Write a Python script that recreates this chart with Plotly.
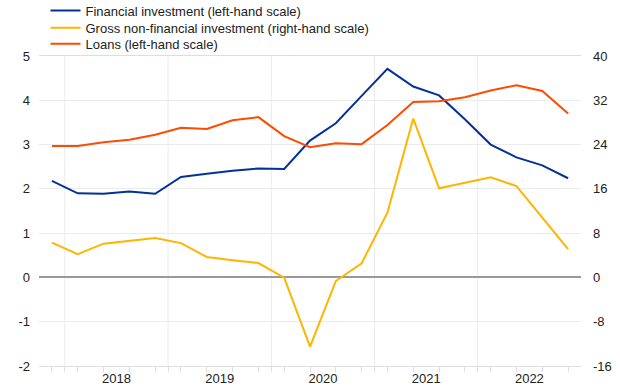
import plotly.graph_objects as go

quarters = ["2017Q4",
            "2018Q1", "2018Q2", "2018Q3", "2018Q4",
            "2019Q1", "2019Q2", "2019Q3", "2019Q4",
            "2020Q1", "2020Q2", "2020Q3", "2020Q4",
            "2021Q1", "2021Q2", "2021Q3", "2021Q4",
            "2022Q1", "2022Q2", "2022Q3", "2022Q4"]

financial_investment = [2.18, 1.90, 1.89, 1.94, 1.89, 2.27, 2.34, 2.41, 2.46, 2.45,
                        3.09, 3.48, 4.10, 4.71, 4.31, 4.11, 3.57, 3.00, 2.71, 2.53, 2.24]
gross_nonfin_investment = [6.3, 4.2, 6.1, 6.6, 7.1, 6.2, 3.7, 3.1, 2.6, -0.05,
                           -12.5, -0.65, 2.55, 11.7, 28.7, 16.1, 17.1, 18.1, 16.5, 10.8, 5.1]
loans = [2.97, 2.97, 3.05, 3.11, 3.22, 3.38, 3.35, 3.55, 3.62, 3.19,
         2.94, 3.03, 3.01, 3.44, 3.96, 3.98, 4.07, 4.22, 4.34, 4.21, 3.70]

left_ticks = [-2, -1, 0, 1, 2, 3, 4, 5]
right_ticks = [-16, -8, 0, 8, 16, 24, 32, 40]

names = ["Financial investment (left-hand scale)",
         "Gross non-financial investment (right-hand scale)",
         "Loans (left-hand scale)"]
colors = ["#003299", "#ffb400", "#ff4b00"]

x = list(range(len(quarters)))
years = sorted(set(q[:4] for q in quarters if q.endswith("Q1")))
year_centers = [sum(i for i, q in enumerate(quarters) if q[:4] == y) /
                sum(1 for q in quarters if q[:4] == y) for y in years]
boundaries = [i - 0.5 for i, q in enumerate(quarters) if q.endswith("Q1")]

fig = go.Figure()
fig.add_trace(go.Scatter(x=x, y=financial_investment, name=names[0], mode="lines",
                         line=dict(color=colors[0], width=2), legend="legend"))
fig.add_trace(go.Scatter(x=x, y=gross_nonfin_investment, name=names[1], mode="lines",
                         line=dict(color=colors[1], width=2), yaxis="y2",
                         legend="legend2"))
fig.add_trace(go.Scatter(x=x, y=loans, name=names[2], mode="lines",
                         line=dict(color=colors[2], width=2), legend="legend3"))

grid = "#ebebeb"
for b in boundaries:
    fig.add_shape(type="line", xref="x", yref="paper", x0=b, x1=b, y0=0, y1=1,
                  line=dict(color=grid, width=1), layer="below")

def leg(ypos):
    return dict(x=0.012, y=ypos, xref="paper", yref="paper",
                xanchor="left", yanchor="top", font=dict(size=13),
                itemwidth=30, bgcolor="rgba(0,0,0,0)", borderwidth=0)

fig.update_layout(
    width=620, height=388,
    margin=dict(l=39, r=39, t=56, b=22, autoexpand=False),
    paper_bgcolor="white", plot_bgcolor="white",
    font=dict(family="Liberation Sans, Arial, sans-serif", size=13, color="#222222"),
    showlegend=True,
    legend=leg(1.1952), legend2=leg(1.1394), legend3=leg(1.0878),
    xaxis=dict(range=[-0.5, len(quarters) - 0.5],
               tickmode="array", tickvals=year_centers, ticktext=years,
               ticks="", showgrid=False, zeroline=False,
               showline=True, linecolor="#dddddd", linewidth=1, mirror=True,
               minor=dict(tickmode="array", tickvals=x + boundaries,
                          ticks="outside", ticklen=5, tickcolor="#dddddd",
                          tickwidth=1, showgrid=False),
               tickfont=dict(size=13)),
    yaxis=dict(range=[left_ticks[0], left_ticks[-1]], tickmode="array",
               tickvals=left_ticks, ticktext=[str(v) for v in left_ticks],
               showgrid=True, gridcolor=grid, gridwidth=1,
               zeroline=True, zerolinecolor="#999999", zerolinewidth=2,
               showline=False, ticks="", ticklabelstandoff=8,
               tickfont=dict(size=13)),
    yaxis2=dict(range=[right_ticks[0], right_ticks[-1]], tickmode="array",
                tickvals=right_ticks, ticktext=[str(v) for v in right_ticks],
                overlaying="y", side="right",
                showgrid=False, zeroline=False, showline=False, ticks="",
                ticklabelstandoff=11, tickfont=dict(size=13)),
)

fig.write_html("out.html", config={"displayModeBar": False},
               post_script="document.body.style.margin='0';document.body.style.padding='0';")
